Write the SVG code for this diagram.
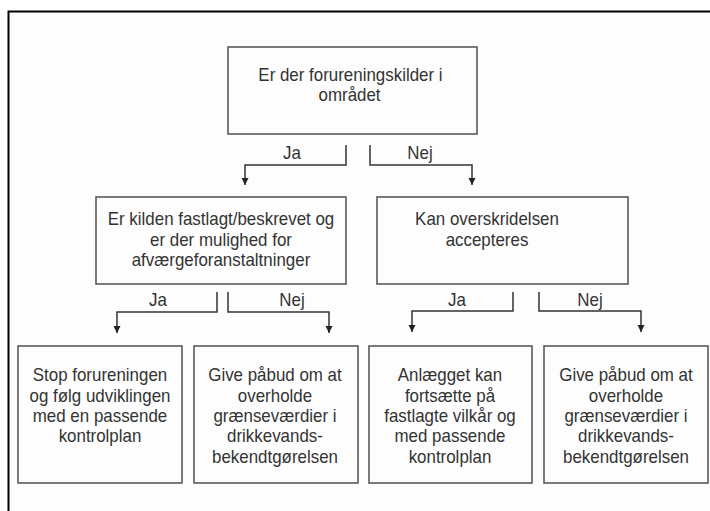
<svg xmlns="http://www.w3.org/2000/svg" width="710" height="511" viewBox="0 0 710 511">
<defs>
<style>
.box{fill:#fdfdfd;stroke:#5a5a5a;stroke-width:1.6}
.t{font-family:"Liberation Sans",Arial,sans-serif;font-size:18.4px;fill:#333;text-anchor:middle}
.c{fill:none;stroke:#333;stroke-width:1.5}
</style>
<marker id="ah" markerUnits="userSpaceOnUse" markerWidth="8" markerHeight="8" refX="7" refY="3.5" orient="auto">
<path d="M0,0 L7,3.5 L0,7 Z" fill="#222"/>
</marker>
</defs>
<rect x="0" y="0" width="710" height="511" fill="#fff"/>
<rect x="8.5" y="11.5" width="720" height="520" fill="#fdfdfd" stroke="#000" stroke-width="2"/>

<g id="n1">
<rect class="box" x="228" y="47" width="249" height="87"/>
<g transform="matrix(0.92 0 0 1 28 0)">
<text class="t" x="350.5" y="81">Er der forureningskilder i</text>
<text class="t" x="349.5" y="101.3">området</text>
</g>
</g>
<g id="n2">
<rect class="box" x="96" y="197" width="250" height="87"/>
<g transform="matrix(0.92 0 0 1 17.68 0)">
<text class="t" x="221" y="225.5">Er kilden fastlagt/beskrevet og</text>
<text class="t" x="221" y="246">er der mulighed for</text>
<text class="t" x="221" y="266.5">afværgeforanstaltninger</text>
</g>
</g>
<g id="n3">
<rect class="box" x="377" y="197" width="251" height="87"/>
<g transform="matrix(0.92 0 0 1 38.96 0)">
<text class="t" x="487" y="225.5">Kan overskridelsen</text>
<text class="t" x="487" y="246">accepteres</text>
</g>
</g>
<g id="n4">
<rect class="box" x="18" y="346" width="164" height="137"/>
<g transform="matrix(0.92 0 0 1 8 0)">
<text class="t" x="100" y="381.5">Stop forureningen</text>
<text class="t" x="100" y="401.8">og følg udviklingen</text>
<text class="t" x="100" y="422.1">med en passende</text>
<text class="t" x="100" y="442.4">kontrolplan</text>
</g>
</g>
<g id="n5">
<rect class="box" x="194" y="346" width="164" height="137"/>
<g transform="matrix(0.92 0 0 1 22 0)">
<text class="t" x="275" y="381.5">Give påbud om at</text>
<text class="t" x="275" y="401.8">overholde</text>
<text class="t" x="275" y="422.1">grænseværdier i</text>
<text class="t" x="275" y="442.4">drikkevands-</text>
<text class="t" x="275" y="462.7">bekendtgørelsen</text>
</g>
</g>
<g id="n6">
<rect class="box" x="369" y="346" width="163" height="137"/>
<g transform="matrix(0.92 0 0 1 36 0)">
<text class="t" x="450" y="381.5">Anlægget kan</text>
<text class="t" x="450" y="401.8">fortsætte på</text>
<text class="t" x="450" y="422.1">fastlagte vilkår og</text>
<text class="t" x="450" y="442.4">med passende</text>
<text class="t" x="450" y="462.7">kontrolplan</text>
</g>
</g>
<g id="n7">
<rect class="box" x="544" y="346" width="164" height="137"/>
<g transform="matrix(0.92 0 0 1 50.08 0)">
<text class="t" x="626" y="381.5">Give påbud om at</text>
<text class="t" x="626" y="401.8">overholde</text>
<text class="t" x="626" y="422.1">grænseværdier i</text>
<text class="t" x="626" y="442.4">drikkevands-</text>
<text class="t" x="626" y="462.7">bekendtgørelsen</text>
</g>
</g>

<g id="connectors">
<path class="c" d="M346,145 V165 H245 V185" marker-end="url(#ah)"/>
<path class="c" d="M370,145 V165 H472 V185" marker-end="url(#ah)"/>
<path class="c" d="M217,292 V312 H117 V333" marker-end="url(#ah)"/>
<path class="c" d="M228,292 V312 H329 V333" marker-end="url(#ah)"/>
<path class="c" d="M513,292 V311 H412 V332" marker-end="url(#ah)"/>
<path class="c" d="M539,292 V311 H641 V332" marker-end="url(#ah)"/>
<text class="t" x="292" y="159.5" transform="matrix(0.92 0 0 1 23.36 0)">Ja</text>
<text class="t" x="420" y="159.5" transform="matrix(0.92 0 0 1 33.6 0)">Nej</text>
<text class="t" x="158" y="306.5" transform="matrix(0.92 0 0 1 12.64 0)">Ja</text>
<text class="t" x="292" y="306.5" transform="matrix(0.92 0 0 1 23.36 0)">Nej</text>
<text class="t" x="457" y="306.5" transform="matrix(0.92 0 0 1 36.56 0)">Ja</text>
<text class="t" x="590" y="306.5" transform="matrix(0.92 0 0 1 47.2 0)">Nej</text>
</g>
</svg>
